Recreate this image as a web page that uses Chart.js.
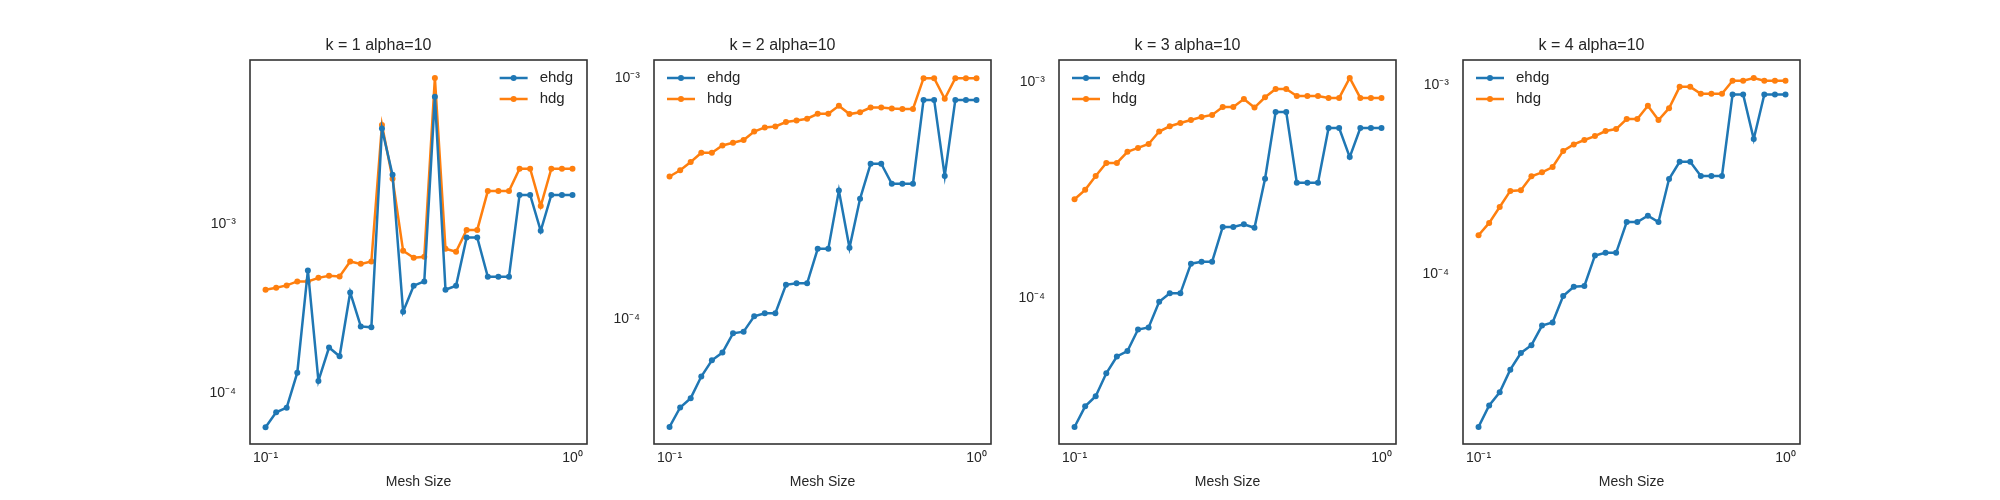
<!DOCTYPE html>
<html>
<head>
<meta charset="utf-8">
<script src="https://cdn.jsdelivr.net/npm/chart.js@4/dist/chart.umd.min.js"></script>
<style>
  body { margin: 0; background: #fff; width: 2000px; height: 500px; position: relative; overflow: hidden; }
  canvas { position: absolute; top: 0; }
</style>
</head>
<body>
<canvas id="c1"></canvas>
<canvas id="c2"></canvas>
<canvas id="c3"></canvas>
<canvas id="c4"></canvas>
<script>
// mesh sizes (same for every panel)
const meshSize = [0.1000, 0.1083, 0.1172, 0.1269, 0.1374, 0.1487, 0.1610, 0.1743, 0.1887, 0.2043,
  0.2212, 0.2395, 0.2593, 0.2807, 0.3039, 0.3290, 0.3562, 0.3857, 0.4175, 0.4520,
  0.4894, 0.5298, 0.5736, 0.6210, 0.6723, 0.7279, 0.7880, 0.8532, 0.9237, 1.0000];

const titles = ['k = 1 alpha=10', 'k = 2 alpha=10', 'k = 3 alpha=10', 'k = 4 alpha=10'];

const ehdg1 = [6.27e-5, 7.69e-5, 8.19e-5, 1.32e-4, 5.32e-4, 1.18e-4, 1.86e-4, 1.65e-4, 3.94e-4, 2.48e-4,
  2.45e-4, 3.68e-3, 1.96e-3, 3.03e-4, 4.32e-4, 4.58e-4, 5.69e-3, 4.09e-4, 4.32e-4, 8.34e-4,
  8.34e-4, 4.88e-4, 4.88e-4, 4.88e-4, 1.49e-3, 1.49e-3, 9.14e-4, 1.49e-3, 1.49e-3, 1.49e-3];
const hdg1 = [4.09e-4, 4.20e-4, 4.34e-4, 4.58e-4, 4.58e-4, 4.81e-4, 4.95e-4, 4.90e-4, 6.01e-4, 5.82e-4,
  6.01e-4, 3.87e-3, 1.86e-3, 6.95e-4, 6.32e-4, 6.41e-4, 7.35e-3, 7.15e-4, 6.86e-4, 9.25e-4,
  9.25e-4, 1.57e-3, 1.57e-3, 1.57e-3, 2.13e-3, 2.13e-3, 1.28e-3, 2.13e-3, 2.13e-3, 2.13e-3];

const ehdg2 = [3.58e-5, 4.31e-5, 4.71e-5, 5.79e-5, 6.76e-5, 7.28e-5, 8.75e-5, 8.89e-5, 1.03e-4, 1.06e-4,
  1.06e-4, 1.39e-4, 1.41e-4, 1.41e-4, 1.96e-4, 1.96e-4, 3.42e-4, 1.98e-4, 3.16e-4, 4.42e-4,
  4.42e-4, 3.65e-4, 3.65e-4, 3.65e-4, 8.13e-4, 8.13e-4, 3.93e-4, 8.13e-4, 8.13e-4, 8.13e-4];
const hdg2 = [3.91e-4, 4.15e-4, 4.49e-4, 4.91e-4, 4.91e-4, 5.26e-4, 5.40e-4, 5.54e-4, 6.01e-4, 6.25e-4,
  6.31e-4, 6.58e-4, 6.68e-4, 6.79e-4, 7.12e-4, 7.12e-4, 7.69e-4, 7.10e-4, 7.23e-4, 7.56e-4,
  7.56e-4, 7.49e-4, 7.46e-4, 7.46e-4, 1.0e-3, 1.0e-3, 8.21e-4, 1.0e-3, 1.0e-3, 1.0e-3];

const ehdg3 = [2.53e-5, 3.15e-5, 3.51e-5, 4.48e-5, 5.36e-5, 5.68e-5, 7.14e-5, 7.30e-5, 9.59e-5, 1.05e-4,
  1.05e-4, 1.44e-4, 1.47e-4, 1.47e-4, 2.13e-4, 2.13e-4, 2.19e-4, 2.11e-4, 3.56e-4, 7.24e-4,
  7.24e-4, 3.41e-4, 3.41e-4, 3.41e-4, 6.11e-4, 6.11e-4, 4.48e-4, 6.11e-4, 6.11e-4, 6.11e-4];
const hdg3 = [2.86e-4, 3.16e-4, 3.66e-4, 4.21e-4, 4.21e-4, 4.74e-4, 4.94e-4, 5.15e-4, 5.88e-4, 6.22e-4,
  6.44e-4, 6.65e-4, 6.87e-4, 7.02e-4, 7.64e-4, 7.64e-4, 8.32e-4, 7.59e-4, 8.47e-4, 9.25e-4,
  9.25e-4, 8.59e-4, 8.59e-4, 8.59e-4, 8.41e-4, 8.41e-4, 1.04e-3, 8.41e-4, 8.41e-4, 8.41e-4];

const ehdg4 = [1.54e-5, 2.00e-5, 2.35e-5, 3.10e-5, 3.80e-5, 4.18e-5, 5.31e-5, 5.51e-5, 7.62e-5, 8.53e-5,
  8.61e-5, 1.25e-4, 1.29e-4, 1.29e-4, 1.88e-4, 1.88e-4, 2.03e-4, 1.88e-4, 3.18e-4, 3.92e-4,
  3.92e-4, 3.30e-4, 3.30e-4, 3.30e-4, 8.93e-4, 8.93e-4, 5.18e-4, 8.93e-4, 8.93e-4, 8.93e-4];
const hdg4 = [1.60e-4, 1.86e-4, 2.26e-4, 2.75e-4, 2.77e-4, 3.29e-4, 3.45e-4, 3.68e-4, 4.48e-4, 4.85e-4,
  5.12e-4, 5.37e-4, 5.71e-4, 5.85e-4, 6.61e-4, 6.61e-4, 7.78e-4, 6.53e-4, 7.55e-4, 9.8e-4,
  9.8e-4, 9.0e-4, 9.0e-4, 9.0e-4, 1.055e-3, 1.055e-3, 1.09e-3, 1.055e-3, 1.055e-3, 1.055e-3];

const xTicks = [0.1, 1];
const yTicks = [1e-5, 1e-4, 1e-3, 1e-2];
const yRanges = [[4.99e-5, 9.38e-3], [3.04e-5, 1.19e-3], [2.11e-5, 1.26e-3], [1.25e-5, 1.36e-3]];

const panels = [
  { id: 'c1', left: 250, ehdg: ehdg1, hdg: hdg1, legend: 'right' },
  { id: 'c2', left: 654, ehdg: ehdg2, hdg: hdg2, legend: 'left' },
  { id: 'c3', left: 1059, ehdg: ehdg3, hdg: hdg3, legend: 'left' },
  { id: 'c4', left: 1463, ehdg: ehdg4, hdg: hdg4, legend: 'left' }
];

// canvas is symmetric round the plot box so the title centres over it
const BOX_W = 337, AXIS_W = 80, PAD_R = 80;
const FONT = 'Liberation Sans, Arial, sans-serif';
const TEXT = '#262626';
const sup = { '-': '⁻', '0': '⁰', '1': '¹', '2': '²', '3': '³', '4': '⁴', '5': '⁵', '6': '⁶' };
function pow10Label(v) {
  const e = String(Math.round(Math.log10(v)));
  return '10' + e.split('').map(ch => sup[ch]).join('');
}

// dark frame round the plot area
const framePlugin = {
  id: 'frame',
  afterDatasetsDraw(chart) {
    const a = chart.chartArea, ctx = chart.ctx;
    ctx.save();
    ctx.strokeStyle = '#333333';
    ctx.lineWidth = 1.6;
    ctx.strokeRect(a.left, a.top, a.right - a.left, a.bottom - a.top);
    ctx.restore();
  }
};

// matplotlib-like legend inside the axes
const legendPlugin = {
  id: 'mplLegend',
  afterDraw(chart, args, opts) {
    const a = chart.chartArea, ctx = chart.ctx;
    ctx.save();
    ctx.font = '15px ' + FONT;
    ctx.textBaseline = 'middle';
    const textW = Math.max(...chart.data.datasets.map(d => ctx.measureText(d.label).width));
    const lineLen = 28, gap = 12;
    let x0 = opts.side === 'right' ? a.right - 14 - textW - gap - lineLen : a.left + 13;
    chart.data.datasets.forEach((d, i) => {
      const y = a.top + 18 + i * 21;
      ctx.strokeStyle = d.borderColor;
      ctx.lineWidth = 2.5;
      ctx.beginPath();
      ctx.moveTo(x0, y);
      ctx.lineTo(x0 + lineLen, y);
      ctx.stroke();
      ctx.fillStyle = d.borderColor;
      ctx.beginPath();
      ctx.arc(x0 + lineLen / 2, y, 3, 0, Math.PI * 2);
      ctx.fill();
      ctx.fillStyle = TEXT;
      ctx.fillText(d.label, x0 + lineLen + gap, y);
    });
    ctx.restore();
  }
};

panels.forEach((p, idx) => {
  const canvas = document.getElementById(p.id);
  canvas.width = AXIS_W + BOX_W + PAD_R;
  canvas.height = 500;
  canvas.style.left = (p.left - AXIS_W) + 'px';
  const [ymin, ymax] = yRanges[idx];

  new Chart(canvas, {
    type: 'line',
    data: {
      datasets: [
        { label: 'ehdg', data: meshSize.map((x, i) => ({ x, y: p.ehdg[i] })),
          borderColor: '#1f77b4', backgroundColor: '#1f77b4' },
        { label: 'hdg', data: meshSize.map((x, i) => ({ x, y: p.hdg[i] })),
          borderColor: '#ff7f0e', backgroundColor: '#ff7f0e' }
      ]
    },
    options: {
      responsive: false,
      devicePixelRatio: 1,
      animation: false,
      layout: { padding: { left: 0, right: PAD_R, top: 0, bottom: 0 } },
      elements: {
        line: { borderWidth: 2.5, tension: 0 },
        point: { radius: 3, borderWidth: 0, hoverRadius: 3 }
      },
      scales: {
        x: {
          type: 'logarithmic',
          min: 0.089, max: 1.115,
          afterBuildTicks: s => { s.ticks = xTicks.map(v => ({ value: v })); },
          afterFit: s => { s.height = 56; },
          ticks: { color: TEXT, font: { family: FONT, size: 14 }, padding: 6, maxRotation: 0,
            callback: v => pow10Label(v) },
          grid: { display: false, drawTicks: false },
          border: { display: false },
          title: { display: true, text: 'Mesh Size', color: TEXT,
            font: { family: FONT, size: 14 }, padding: { top: 0, bottom: 9 } }
        },
        y: {
          type: 'logarithmic',
          min: ymin, max: ymax,
          afterBuildTicks: s => {
            s.ticks = yTicks.filter(v => v >= ymin && v <= ymax).map(v => ({ value: v }));
          },
          afterFit: s => { s.width = AXIS_W; },
          ticks: { color: TEXT, font: { family: FONT, size: 14 }, padding: 14,
            callback: v => pow10Label(v) },
          grid: { display: false, drawTicks: false },
          border: { display: false }
        }
      },
      plugins: {
        legend: { display: false },
        tooltip: { enabled: false },
        title: { display: true, text: titles[idx], color: TEXT,
          font: { family: FONT, size: 16, weight: 'normal' }, padding: { top: 36, bottom: 4.8 } },
        mplLegend: { side: p.legend }
      }
    },
    plugins: [framePlugin, legendPlugin]
  });
});
</script>
</body>
</html>
